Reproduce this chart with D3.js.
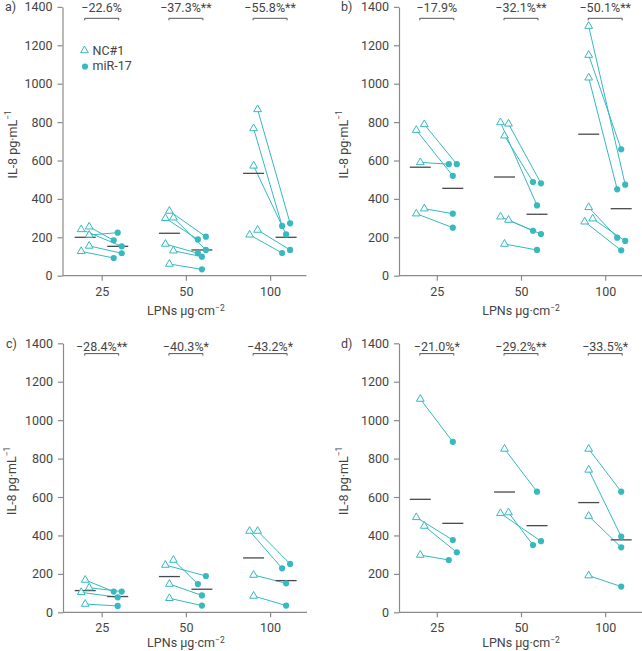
<!DOCTYPE html>
<html><head><meta charset="utf-8">
<script src="https://cdn.jsdelivr.net/npm/d3@7"></script>
<style>
body{margin:0;background:#fff;}
svg{display:block;font-family:Roboto,"DejaVu Sans",sans-serif;}
</style></head><body>
<script>
// ---------- DATA ----------
const categories = ["25", "50", "100"];
const yTicks = [0, 200, 400, 600, 800, 1000, 1200, 1400];
const panelLabels = ["a)", "b)", "c)", "d)"];
const seriesNames = ["NC#1", "miR-17"];

// percent change labels per panel
const pctA = ["\u221222.6%", "\u221237.3%**", "\u221255.8%**"];
const pctB = ["\u221217.9%", "\u221232.1%**", "\u221250.1%**"];
const pctC = ["\u221228.4%**", "\u221240.3%*", "\u221243.2%*"];
const pctD = ["\u221221.0%*", "\u221229.2%**", "\u221233.5%*"];

// paired values (NC#1[i] -> miR-17[i]) per category, IL-8 pg/mL
const ncA  = [[241, 255, 212, 155, 127], [337, 299, 302, 165, 130, 61], [866, 767, 572, 238, 213]];
const mirA = [[153, 184, 224, 117, 92],  [203, 189, 134, 117, 99, 33],  [273, 259, 215, 134, 118]];
const ncB  = [[788, 758, 590, 349, 323], [798, 791, 729, 307, 290, 165], [1300, 1149, 1031, 356, 297, 281]];
const mirB = [[581, 520, 581, 323, 250], [366, 481, 488, 234, 217, 134], [474, 658, 450, 198, 181, 132]];
const ncC  = [[168, 128, 104, 43], [246, 272, 147, 73], [423, 423, 194, 85]];
const mirC = [[108, 108, 78, 33],  [189, 147, 88, 35],  [229, 252, 151, 35]];
const ncD  = [[1110, 494, 449, 298], [850, 515, 519], [850, 741, 501, 191]];
const mirD = [[887, 376, 312, 272],  [628, 370, 350], [628, 394, 338, 134]];

// dodge lane of each point (0 = left, 1 = middle, 2 = right)
const ncLaneA  = [[0, 2, 2, 2, 0], [1, 0, 2, 0, 2, 1], [2, 1, 1, 2, 0]];
const mirLaneA = [[2, 0, 1, 2, 0], [2, 0, 2, 0, 1, 1], [2, 0, 1, 2, 0]];
const ncLaneB  = [[2, 0, 1, 2, 0], [0, 2, 1, 0, 2, 1], [1, 1, 1, 1, 2, 0]];
const mirLaneB = [[2, 1, 0, 1, 1], [1, 2, 0, 0, 2, 1], [2, 1, 0, 0, 2, 1]];
const ncLaneC  = [[1, 2, 0, 1], [0, 2, 1, 1], [0, 2, 1, 1]];
const mirLaneC = [[0, 2, 1, 1], [2, 0, 1, 1], [0, 2, 1, 1]];
const ncLaneD  = [[1, 0, 2, 1], [1, 0, 2], [1, 1, 1, 1]];
const mirLaneD = [[1, 1, 2, 0], [1, 2, 0], [1, 1, 1, 1]];

// group means (horizontal bars) as drawn
const ncMeanA = [200, 221, 533],  mirMeanA = [153, 134, 200];
const ncMeanB = [565, 514, 737],  mirMeanB = [455, 320, 349];
const ncMeanC = [113, 186, 283],  mirMeanC = [82, 120, 165];
const ncMeanD = [588, 626, 571],  mirMeanD = [463, 451, 377];

// ---------- LAYOUT ----------
const W = 642, H = 651;
const teal = "#36b9bf";
const axisCol = "#8a8a8a";
const textCol = "#444";

const panels = [
  {label: panelLabels[0], nc: ncA, mir: mirA, ncL: ncLaneA, mirL: mirLaneA, ncM: ncMeanA, mirM: mirMeanA, pct: pctA,
   x0: 62.5, catOff: 39.2, axLen: 244, yTop: 6.9, yBot: 275.7, labX: 5, ylabX: 12, pctY: 12, brY: 18.3, xlabY: 315.2, legend: true},
  {label: panelLabels[1], nc: ncB, mir: mirB, ncL: ncLaneB, mirL: mirLaneB, ncM: ncMeanB, mirM: mirMeanB, pct: pctB,
   x0: 399, catOff: 37.8, axLen: 243, yTop: 6.9, yBot: 275.7, labX: 341, ylabX: 343, pctY: 12, brY: 18.3, xlabY: 315.2, legend: false},
  {label: panelLabels[2], nc: ncC, mir: mirC, ncL: ncLaneC, mirL: mirLaneC, ncM: ncMeanC, mirM: mirMeanC, pct: pctC,
   x0: 63, catOff: 38.7, axLen: 244, yTop: 343.3, yBot: 612.3, labX: 6, ylabX: 11, pctY: 350.5, brY: 353.6, xlabY: 646.5, legend: false},
  {label: panelLabels[3], nc: ncD, mir: mirD, ncL: ncLaneD, mirL: mirLaneD, ncM: ncMeanD, mirM: mirMeanD, pct: pctD,
   x0: 399, catOff: 37.8, axLen: 243, yTop: 343.3, yBot: 612.3, labX: 341, ylabX: 342.5, pctY: 350.5, brY: 353.6, xlabY: 646.5, legend: false}
];

const ncLaneScale = d3.scaleLinear().domain([0, 2]).range([-20.5, -12.5]);
const mirLaneScale = d3.scaleLinear().domain([0, 2]).range([12, 20]);
const meanHalf = 10.5;

const svg = d3.select("body").append("svg").attr("width", W).attr("height", H);
const triangle = d3.symbol().type(d3.symbolTriangle).size(26);

panels.forEach(p => {
  const g = svg.append("g");
  const y = d3.scaleLinear().domain([0, 1400]).range([p.yBot, p.yTop]);
  const x = d3.scalePoint().domain(categories)
    .range([p.x0 + p.catOff, p.x0 + p.catOff + 168.4]);

  // Y axis
  const ya = g.append("g").attr("transform", `translate(${p.x0},0)`)
    .call(d3.axisLeft(y).tickValues(yTicks).tickFormat(d3.format("d"))
      .tickSize(5).tickSizeOuter(0).tickPadding(5));
  ya.select(".domain").attr("stroke", axisCol).attr("stroke-width", 1.2);
  ya.selectAll(".tick line").attr("stroke", axisCol).attr("stroke-width", 1.2);
  ya.selectAll(".tick text").attr("fill", textCol).attr("font-size", 12.5).attr("font-family", "Roboto");

  // X axis
  const xa = g.append("g").attr("transform", `translate(0,${p.yBot})`)
    .call(d3.axisBottom(x).tickSize(5).tickSizeOuter(0).tickPadding(6));
  xa.select(".domain").remove();
  xa.selectAll(".tick line").attr("stroke", axisCol).attr("stroke-width", 1.2);
  xa.selectAll(".tick text").attr("fill", textCol).attr("font-size", 12.5).attr("font-family", "Roboto");
  g.append("line").attr("x1", p.x0).attr("x2", p.x0 + p.axLen)
    .attr("y1", p.yBot).attr("y2", p.yBot)
    .attr("stroke", axisCol).attr("stroke-width", 1.2);

  // panel label
  g.append("text").attr("x", p.labX).attr("y", y(1400)).attr("dy", "0.35em")
    .attr("fill", textCol).attr("font-size", 12.5).text(p.label);

  // y-axis title
  const yt = g.append("text")
    .attr("transform", `translate(${p.ylabX},${(p.yTop + p.yBot) / 2 + 3}) rotate(-90)`)
    .attr("text-anchor", "middle").attr("dominant-baseline", "central")
    .attr("fill", textCol).attr("font-size", 12.5);
  yt.append("tspan").text("IL-8 pg\u00B7mL");
  yt.append("tspan").attr("font-size", 8.5).attr("dy", -4).text("\u22121");

  // x-axis title
  const xt = g.append("text").attr("x", x("50")).attr("y", p.xlabY)
    .attr("text-anchor", "middle").attr("fill", textCol).attr("font-size", 12.5);
  xt.append("tspan").text("LPNs \u00B5g\u00B7cm");
  xt.append("tspan").attr("font-size", 8.5).attr("dy", -4).text("\u22122");

  categories.forEach((c, ci) => {
    const cx = x(c);
    const nc = p.nc[ci], mir = p.mir[ci];
    const ncX = i => cx + ncLaneScale(p.ncL[ci][i]);
    const mirX = i => cx + mirLaneScale(p.mirL[ci][i]);

    // pair lines
    nc.forEach((v, i) => {
      g.append("line")
        .attr("x1", ncX(i)).attr("y1", y(v))
        .attr("x2", mirX(i)).attr("y2", y(mir[i]))
        .attr("stroke", teal).attr("stroke-width", 1);
    });
    // mean bars
    const ncC = cx + ncLaneScale(1), mirC = cx + mirLaneScale(1);
    g.append("line").attr("x1", ncC - meanHalf).attr("x2", ncC + meanHalf)
      .attr("y1", y(p.ncM[ci])).attr("y2", y(p.ncM[ci]))
      .attr("stroke", "#4a4a4a").attr("stroke-width", 1.3);
    g.append("line").attr("x1", mirC - meanHalf).attr("x2", mirC + meanHalf)
      .attr("y1", y(p.mirM[ci])).attr("y2", y(p.mirM[ci]))
      .attr("stroke", "#4a4a4a").attr("stroke-width", 1.3);
    // triangles
    nc.forEach((v, i) => {
      g.append("path").attr("d", triangle)
        .attr("transform", `translate(${ncX(i)},${y(v)})`)
        .attr("fill", "#fff").attr("fill-opacity", 0.85)
        .attr("stroke", teal).attr("stroke-width", 1);
    });
    // circles
    mir.forEach((v, i) => {
      g.append("circle").attr("cx", mirX(i)).attr("cy", y(v)).attr("r", 3.1)
        .attr("fill", teal);
    });

    // bracket + percent label
    const bx1 = cx - 17, bx2 = cx + 17;
    g.append("path")
      .attr("d", `M${bx1},${p.brY + 2}V${p.brY}H${bx2}V${p.brY + 2}`)
      .attr("fill", "none").attr("stroke", "#555").attr("stroke-width", 1);
    g.append("text").attr("x", cx).attr("y", p.pctY)
      .attr("text-anchor", "middle").attr("fill", textCol).attr("font-size", 12.5)
      .text(p.pct[ci]);
  });

  if (p.legend) {
    g.append("path").attr("d", triangle)
      .attr("transform", `translate(84.5,50.5)`)
      .attr("fill", "#fff").attr("stroke", teal).attr("stroke-width", 1);
    g.append("text").attr("x", 92.5).attr("y", 50.5).attr("dy", "0.35em")
      .attr("fill", textCol).attr("font-size", 12.5).text(seriesNames[0]);
    g.append("circle").attr("cx", 85).attr("cy", 66.5).attr("r", 3.1).attr("fill", teal);
    g.append("text").attr("x", 92.5).attr("y", 66).attr("dy", "0.35em")
      .attr("fill", textCol).attr("font-size", 12.5).text(seriesNames[1]);
  }
});
</script>
</body></html>
